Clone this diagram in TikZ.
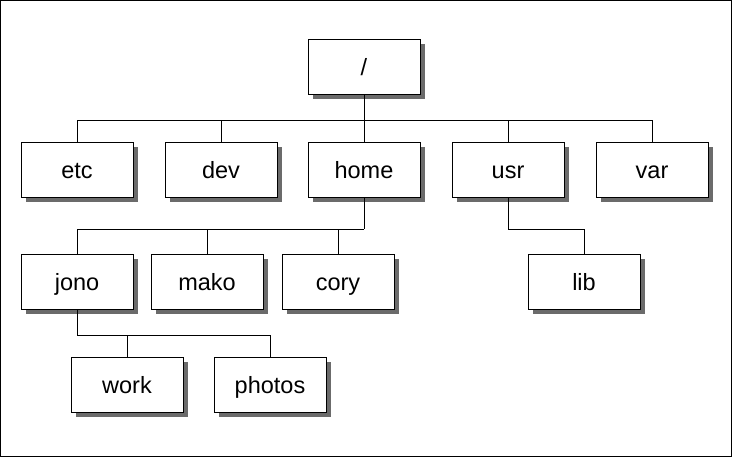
\documentclass[tikz,border=0pt]{standalone}
\usepackage{fontspec}
\setmainfont{Liberation Sans}
\usetikzlibrary{shadows}
\begin{document}
\begin{tikzpicture}[x=1pt,y=-1pt,
  dirbox/.style={draw=black, line width=0.9pt, fill=white, minimum width=112pt,
    minimum height=55pt, inner sep=0pt, text height=21pt, text depth=4pt,
    font=\fontsize{23.5}{28}\selectfont,
    drop shadow={shadow xshift=4.5pt, shadow yshift=-4.5pt, fill=black!58, opacity=1}},
  link/.style={draw=black, line width=0.9pt}]
\useasboundingbox (0,0) rectangle (733,458);
\draw[line width=1.1pt] (0.6,0.6) rectangle (731.6,456.6);

% root
\node[dirbox] (root) at (364,67) {/};
% first level
\node[dirbox] (etc)  at (77,170)  {etc};
\node[dirbox] (dev)  at (221,170) {dev};
\node[dirbox] (home) at (364,170) {home};
\node[dirbox] (usr)  at (508,170) {usr};
\node[dirbox] (var)  at (652,170) {var};
% second level
\node[dirbox] (jono) at (77,282)  {jono};
\node[dirbox] (mako) at (207,282) {mako};
\node[dirbox] (cory) at (338,282) {cory};
\node[dirbox] (lib)  at (584,282) {lib};
% third level
\node[dirbox] (work)   at (127,385) {work};
\node[dirbox] (photos) at (270,385) {photos};

% connectors from the root
\coordinate (rb) at (364,120);
\draw[link] (root.south) -- (rb);
\foreach \n in {etc,dev,home,usr,var}
  \draw[link] (rb -| \n.north) -- (\n.north);
\draw[link] (rb -| etc.north) -- (rb -| var.north);

% connectors from home
\coordinate (hb) at (364,229);
\draw[link] (home.south) -- (hb);
\foreach \n in {jono,mako,cory}
  \draw[link] (hb -| \n.north) -- (\n.north);
\draw[link] (hb -| jono.north) -- (hb);

% connector from usr
\coordinate (ub) at (508,229);
\draw[link] (usr.south) -- (ub) -- (ub -| lib.north) -- (lib.north);

% connectors from jono
\coordinate (jb) at (77,335);
\draw[link] (jono.south) -- (jb);
\foreach \n in {work,photos}
  \draw[link] (jb -| \n.north) -- (\n.north);
\draw[link] (jb) -- (jb -| photos.north);
\end{tikzpicture}
\end{document}
